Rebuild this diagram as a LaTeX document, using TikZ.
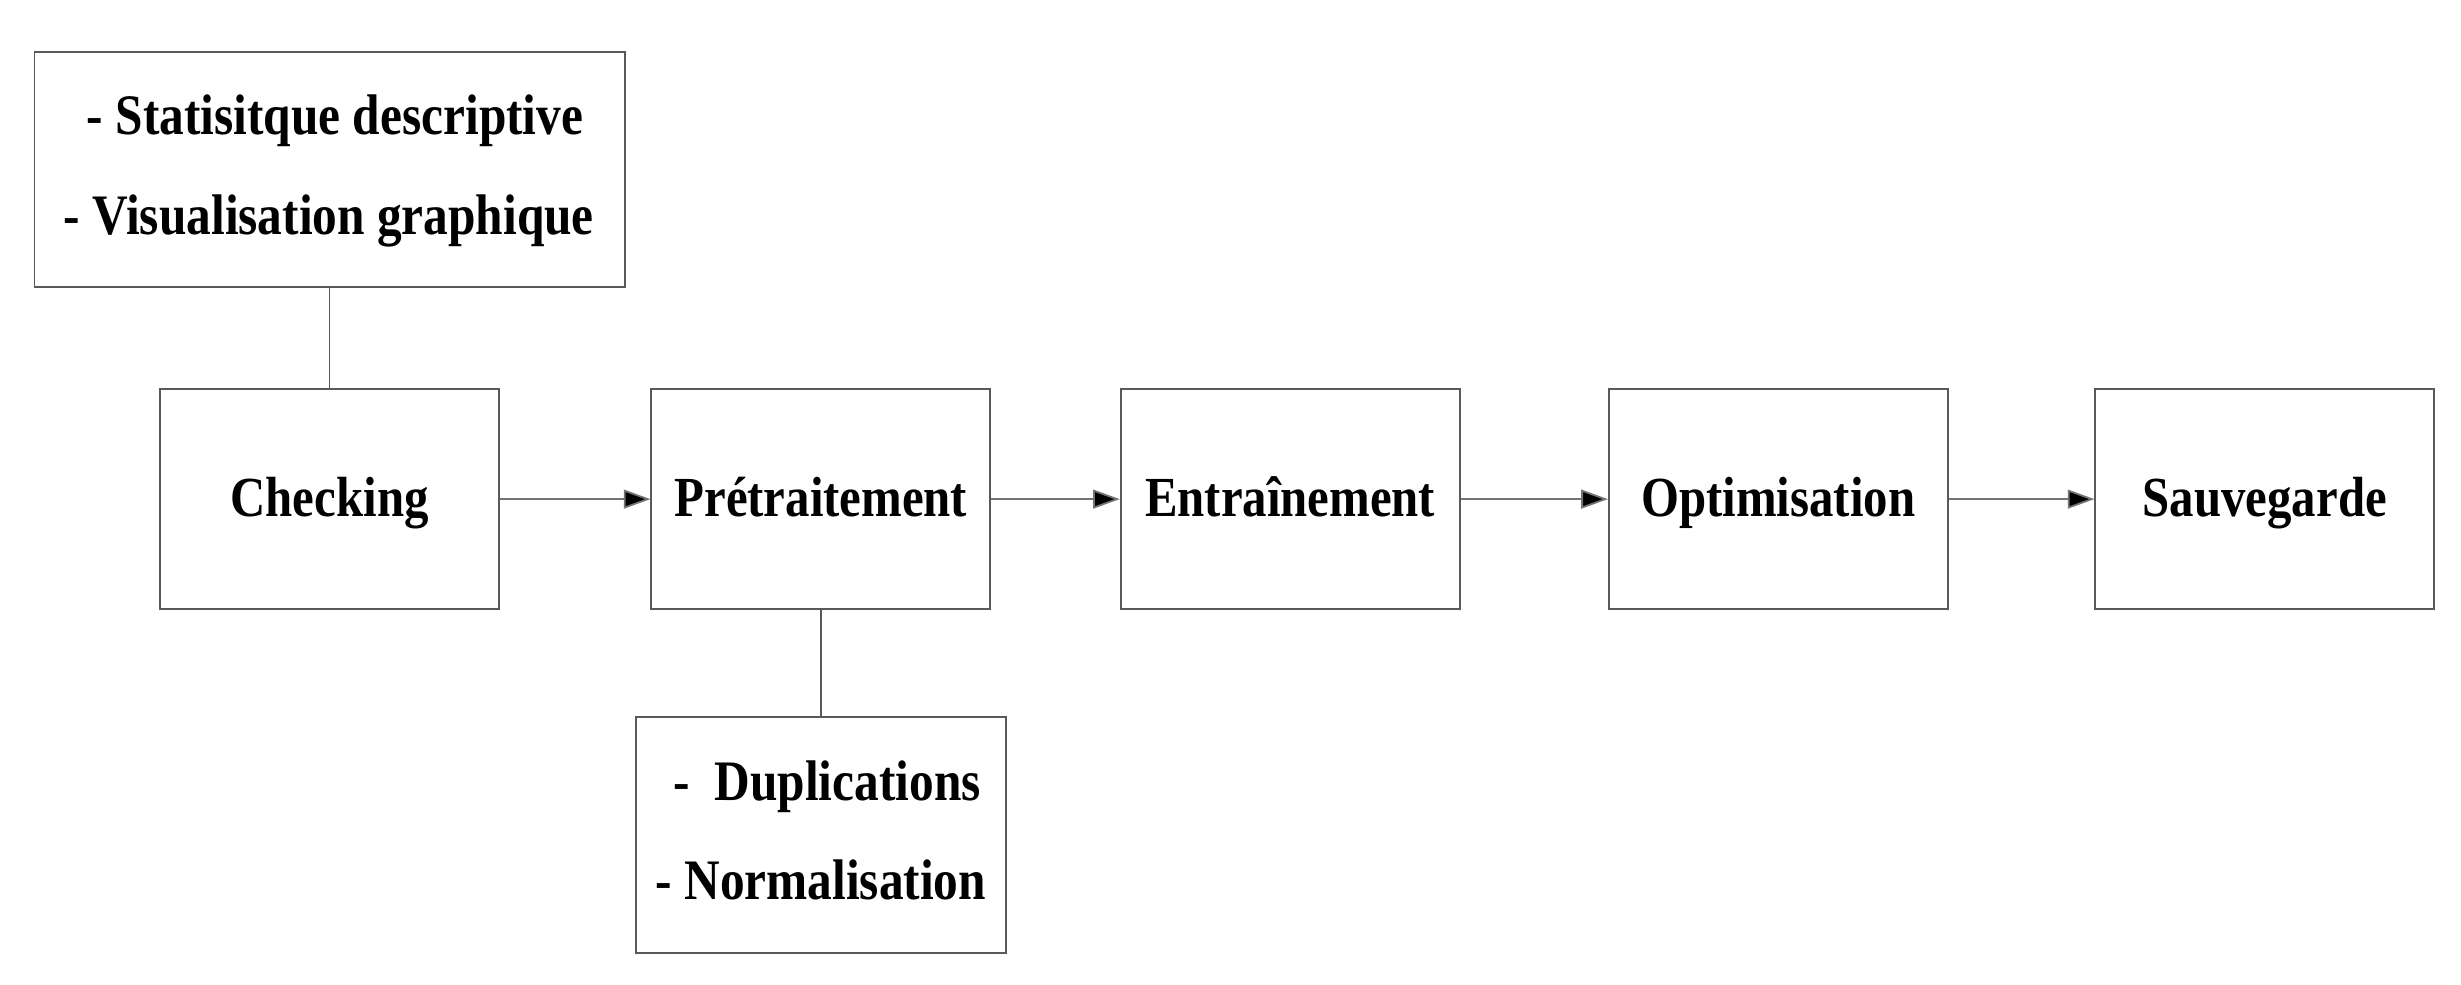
\documentclass[tikz,border=0pt]{standalone}
\usepackage{fontspec}
\usepackage{graphicx}
\setmainfont{Liberation Serif}
\usetikzlibrary{arrows.meta}
\newcommand{\tall}[1]{\scalebox{1}[1.16]{#1}}
\tikzset{
  stagebox/.style={draw=black!65, line width=0.65pt, minimum width=4.32cm, minimum height=2.8cm, inner sep=0pt, text height=17.5pt, text depth=5pt, font=\fontsize{17.7}{21}\selectfont\bfseries},
  notebox/.style={draw=black!65, line width=0.65pt, minimum height=3cm, inner sep=0pt},
  notetext/.style={inner sep=0pt, anchor=base, font=\fontsize{17.9}{21}\selectfont\bfseries},
  flow/.style={draw=black!55, line width=0.65pt, -{Triangle[length=0.34cm, width=0.24cm, fill=black]}},
  link/.style={draw=black!65, line width=0.65pt}
}
\begin{document}
\begin{tikzpicture}[x=0.02cm, y=-0.02cm]
\useasboundingbox (0,0) rectangle (1568,627);
\node[notebox, minimum width=7.52cm] (desc) at (210,108) {};
\node[notetext] (descA) at (213.5,86) {\tall{- Statisitque descriptive}};
\node[notetext] (descB) at (209.5,149.7) {\tall{- Visualisation graphique}};
\node[stagebox] (check) at (210,318) {\tall{Checking}};
\node[stagebox] (pre) at (523,318) {\tall{Prétraitement}};
\node[stagebox] (train) at (822,318) {\tall{Entraînement}};
\node[stagebox] (opt) at (1133,318) {\tall{Optimisation}};
\node[stagebox] (save) at (1443,318) {\tall{Sauvegarde}};
\node[notebox, minimum width=4.72cm] (clean) at (523,532) {};
\node[notetext] (cleanA) at (527,509.7) {\tall{-\ \ Duplications}};
\node[notetext] (cleanB) at (523,573.4) {\tall{- Normalisation}};
\draw[link] (desc.south) -- (check.north);
\draw[link] (pre.south) -- (clean.north);
\draw[flow] (check) -- (pre);
\draw[flow] (pre) -- (train);
\draw[flow] (train) -- (opt);
\draw[flow] (opt) -- (save);
\end{tikzpicture}
\end{document}
